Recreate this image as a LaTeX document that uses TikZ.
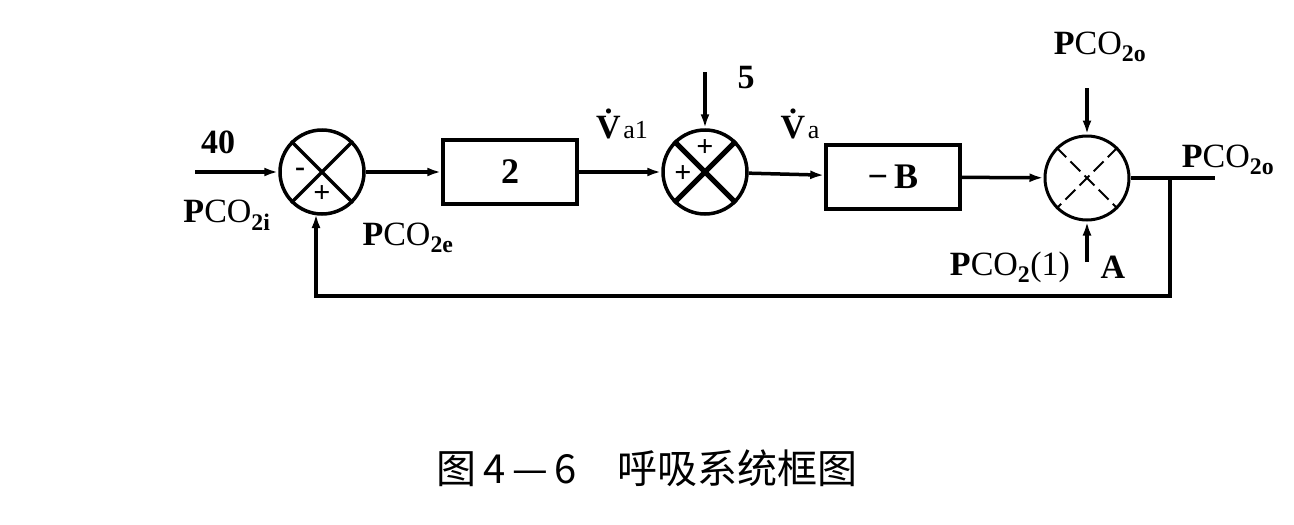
\documentclass[tikz,border=0pt]{standalone}
\usepackage{fontspec}
\setmainfont{Liberation Serif}
\newfontfamily\cjk{Noto Sans CJK SC}
\usetikzlibrary{arrows.meta}
\begin{document}
\begin{tikzpicture}[x=1pt,y=-1pt,
  line/.style={line width=3.5pt},
  arr/.style={line width=3.5pt,-{Latex[length=14pt,width=9pt]}},
  sum/.style={circle,draw,line width=3.5pt,minimum size=84pt,inner sep=0pt},
  blk/.style={draw,line width=3.5pt,minimum width=134pt,minimum height=64pt,font=\fontsize{36}{36}\selectfont\bfseries},
  lab/.style={font=\fontsize{34}{34}\selectfont\bfseries,inner sep=0pt},
  sg/.style={font=\fontsize{30}{30}\selectfont\bfseries,inner sep=0pt}]
\useasboundingbox (0,0) rectangle (1294,525);
\node[sum] (s1) at (322,172) {};
\draw[line width=3.5pt] (s1.45)--(s1.225) (s1.135)--(s1.-45);
\node[sg] at (300,172) {-};
\node[sg] at (322,194) {+};
\node[blk] (b2) at (510,172) {2};
\node[sum] (s2) at (705,172) {};
\draw[line width=5pt] (s2.45)--(s2.225) (s2.135)--(s2.-45);
\node[sg] at (705,148) {+};
\node[sg] at (683,174) {+};
\node[blk] (bb) at (893,177) {−\,B};
\node[sum,line width=3pt] (s3) at (1087,178) {};
\draw[line width=2pt,dash pattern=on 14pt off 6pt] (s3.45)--(s3.225) (s3.135)--(s3.-45);
\coordinate (in) at (195,172);
\coordinate (five) at (705,72);
\coordinate (top) at (1087,88);
\coordinate (out) at (1215,178);
\coordinate (fb) at (1170,178);
\coordinate (bot) at (1087,262);
\draw[arr] (in)--(s1);
\draw[arr] (s1)--(b2);
\draw[arr] (b2)--(s2);
\draw[arr] (five)--(s2);
\draw[arr] (s2)--(bb);
\draw[arr] (bb)--(s3);
\draw[arr] (top)--(s3);
\draw[arr] (bot)--(s3);
\draw[line] (s3)--(out);
\draw[arr] (fb)--(1170,296)--(316,296)--(316,214);
\node[lab] at (218,142) {40};
\node[lab] at (227,215) {P\textmd{CO}$_{\mathbf{2i}}$};
\node[lab] at (408,238) {P\textmd{CO}$_{\mathbf{2e}}$};
\node[lab] at (622,124) {\.V\textmd{\fontsize{26}{26}\selectfont a1}};
\node[lab] at (746,78) {5};
\node[lab] at (800,124) {\.V\textmd{\fontsize{26}{26}\selectfont a}};
\node[lab] at (1100,47) {P\textmd{CO}$_{\mathbf{2o}}$};
\node[lab] at (1228,160) {P\textmd{CO}$_{\mathbf{2o}}$};
\node[lab] at (1010,267) {P\textmd{CO}$_{\mathbf{2}}$\textmd{(1)}};
\node[lab] at (1113,267) {A};
\node[font=\cjk\fontsize{40}{40}\selectfont] at (647,468) {图\,4\,—\,6\quad 呼吸系统框图};
\end{tikzpicture}
\end{document}
